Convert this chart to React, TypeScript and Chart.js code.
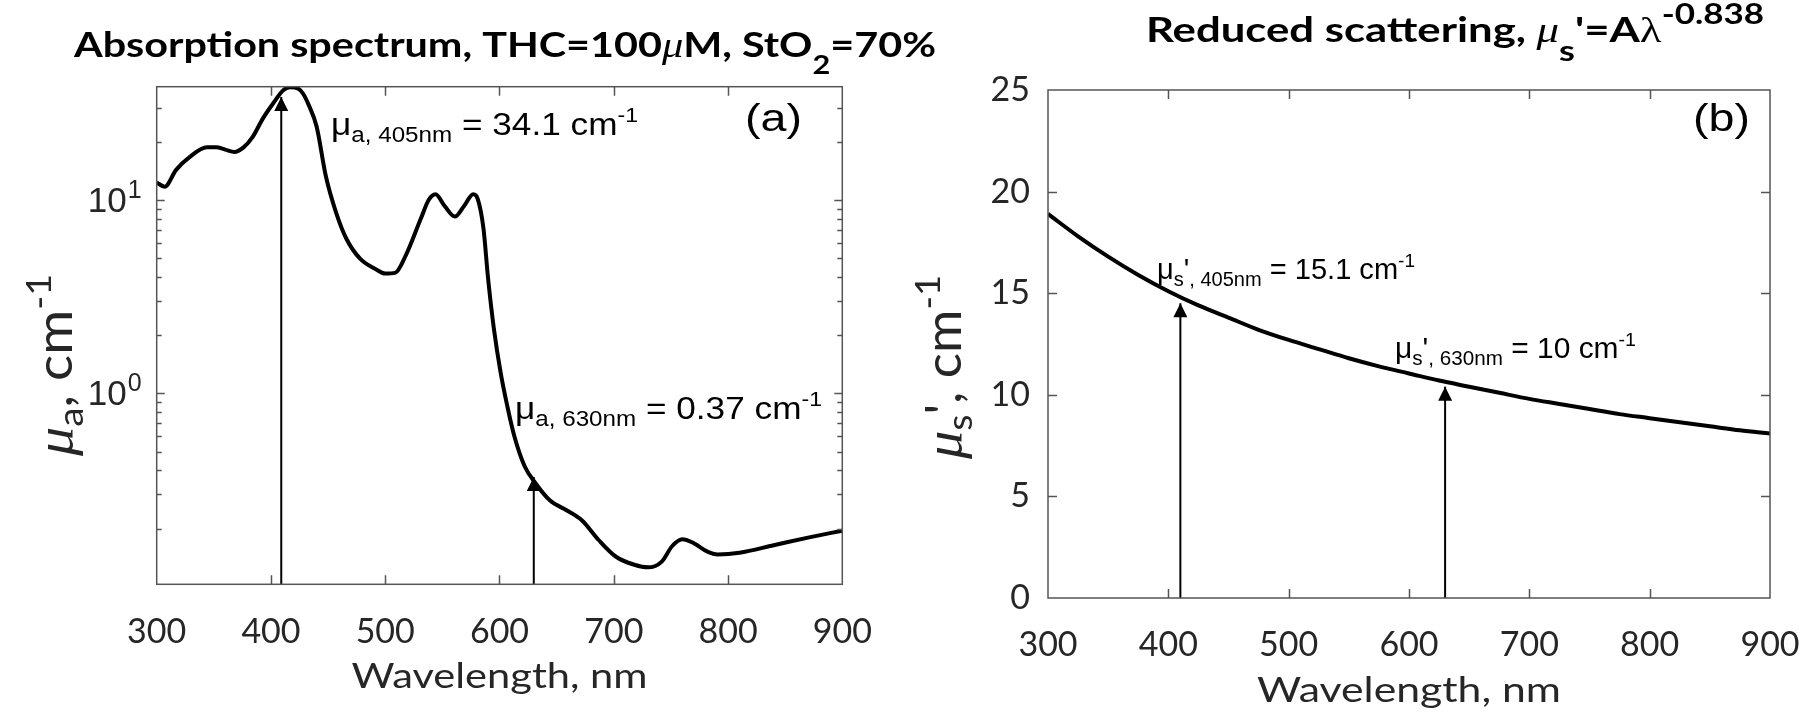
import React, { useEffect, useRef } from 'react';
import { Chart, registerables } from 'chart.js';
Chart.register(...registerables);

// ---------- data ----------
const lambdaAbs = [300, 307, 317, 329, 344, 352, 360, 368, 376, 384, 393, 402, 411, 417, 424, 428, 433, 440, 448, 457, 466, 478, 491, 500, 509, 518, 531, 538, 544, 552, 561, 569, 577, 581, 586, 590, 595, 601, 607, 613, 622, 632, 644, 659, 672, 687, 702, 718, 730, 742, 751, 760, 770, 782, 791, 810, 840, 871, 900];
const muAbs = [12.3, 11.7, 14.3, 16.7, 18.7, 18.7, 18.2, 17.7, 18.7, 21.2, 26.4, 31.6, 37.0, 38.3, 37.6, 35.5, 31.0, 23.9, 13.3, 8.6, 6.3, 4.97, 4.41, 4.16, 4.21, 5.17, 7.96, 10.0, 10.7, 9.3, 8.2, 9.3, 10.7, 10.1, 7.1, 3.93, 2.18, 1.28, 0.85, 0.6, 0.42, 0.34, 0.28, 0.248, 0.221, 0.174, 0.143, 0.13, 0.126, 0.135, 0.162, 0.176, 0.168, 0.152, 0.147, 0.15, 0.164, 0.18, 0.195];

const lambdaScat = [300, 325, 350, 375, 400, 425, 450, 475, 500, 525, 550, 575, 600, 625, 650, 675, 700, 725, 750, 775, 800, 825, 850, 875, 900];
const muScat = [18.9, 17.8, 16.8, 15.9, 15.1, 14.4, 13.8, 13.2, 12.7, 12.25, 11.8, 11.4, 11.05, 10.7, 10.4, 10.1, 9.8, 9.55, 9.3, 9.05, 8.85, 8.65, 8.45, 8.25, 8.1];

const xTickValues = [300, 400, 500, 600, 700, 800, 900];
const logTickValues = [0.2, 0.3, 0.4, 0.5, 0.6, 0.7, 0.8, 0.9, 1, 2, 3, 4, 5, 6, 7, 8, 9, 10, 20, 30];
const logLabelValues = [1, 10];
const scatTickValues = [0, 5, 10, 15, 20, 25];

const absYMin = 0.103;
const absYMax = 38.5;
const scatYMin = 0;
const scatYMax = 25;

const arrowAbsX = [409, 630];
const arrowAbsTip = [34.1, 0.37];
const arrowScatX = [410, 630];
const arrowScatTip = [14.5, 10.4];

// ---------- styling ----------
const FONT_LATO = "Lato, 'DejaVu Sans', sans-serif";
const FONT_ARIAL = "'Liberation Sans', Arial, sans-serif";
const FONT_SERIF = "'Liberation Serif', 'DejaVu Serif', serif";
const AXIS_COLOR = '#555555';
const TEXT_COLOR = '#262626';

type Seg = { t: string; px: number; fam: string; bold?: boolean; it?: boolean; dy?: number };
type Rich = { segs: Seg[]; x: number; y: number; align: 'left' | 'center'; width?: number; sx?: number; rot?: boolean; hs?: number; color?: string };

const fontOf = (s: Seg) => `${s.it ? 'italic ' : ''}${s.bold ? 'bold ' : ''}${s.px}px ${s.fam}`;

function drawRich(ctx: CanvasRenderingContext2D, r: Rich, offX: number) {
  ctx.save();
  const ws = r.segs.map((s) => {
    ctx.font = fontOf(s);
    return ctx.measureText(s.t).width;
  });
  const total = ws.reduce((a, b) => a + b, 0);
  const sx = r.width ? r.width / total : r.sx ?? 1;
  ctx.translate(r.x - offX, r.y);
  if (r.rot) ctx.rotate(-Math.PI / 2);
  ctx.scale(sx, r.hs ?? 1);
  let cx = r.align === 'center' ? -total / 2 : 0;
  ctx.fillStyle = r.color ?? '#000';
  ctx.textAlign = 'left';
  ctx.textBaseline = 'alphabetic';
  r.segs.forEach((s, i) => {
    ctx.font = fontOf(s);
    ctx.fillText(s.t, cx, s.dy ?? 0);
    cx += ws[i];
  });
  ctx.restore();
}

const B = (t: string, px = 35, dy = 0): Seg => ({ t, px, fam: FONT_LATO, bold: true, dy });
const L = (t: string, px = 40, dy = 0): Seg => ({ t, px, fam: FONT_LATO, dy });
const A = (t: string, px = 32, dy = 0): Seg => ({ t, px, fam: FONT_ARIAL, dy });
const G = (t: string, px = 35, dy = 0, it = true): Seg => ({ t, px, fam: FONT_SERIF, it, dy });

const leftTexts: Rich[] = [
  { segs: [B('Absorption spectrum, THC=100'), G('μ', 36), B('M, StO'), B('2', 26, 17), B('=70%')], x: 505, y: 57, align: 'center', width: 862 },
  { segs: [L('Wavelength, nm', 35)], x: 499.5, y: 688, align: 'center', width: 296, color: TEXT_COLOR },
  { segs: [G('μ', 48), L('a', 32, 10), L(', cm', 45), L('-1', 31, -19)], x: 72, y: 365, align: 'center', width: 182, rot: true, hs: 1.1, color: TEXT_COLOR },
  { segs: [A('μ'), A('a, 405nm', 22, 7), A(' = 34.1 cm'), A('-1', 21, -13)], x: 331, y: 135, align: 'left', width: 307 },
  { segs: [A('μ'), A('a, 630nm', 22, 7), A(' = 0.37 cm'), A('-1', 21, -13)], x: 515, y: 419, align: 'left', width: 307 },
  { segs: [A('(a)', 38)], x: 745, y: 131, align: 'left', width: 57 },
];

const rightTexts: Rich[] = [
  { segs: [B('Reduced scattering, '), G('μ', 36), B('s', 29, 19), B("'=A"), G('λ', 36, 0, false), B('-0.838', 28, -18)], x: 1146, y: 42, align: 'left', width: 618 },
  { segs: [L('Wavelength, nm', 35)], x: 1409, y: 702, align: 'center', width: 304, color: TEXT_COLOR },
  { segs: [G('μ', 48), L('s', 32, 10), L("'", 45), L(', cm', 45), L('-1', 31, -19)], x: 961, y: 367, align: 'center', width: 184, rot: true, hs: 1.1, color: TEXT_COLOR },
  { segs: [A('μ', 29), A('s', 20, 7), A("'", 29), A(', 405nm', 20, 7), A(' = 15.1 cm', 29), A('-1', 19, -12)], x: 1157, y: 279, align: 'left', width: 258 },
  { segs: [A('μ', 29), A('s', 20, 7), A("'", 29), A(', 630nm', 20, 7), A(' = 10 cm', 29), A('-1', 19, -12)], x: 1395, y: 358, align: 'left', width: 241 },
  { segs: [A('(b)', 38)], x: 1693, y: 131, align: 'left', width: 57 },
];

// ---------- plugins ----------
function framePlugin(logY: boolean) {
  return {
    id: 'frameTicks',
    afterDatasetsDraw(chart: any) {
      const { ctx, chartArea: a, scales } = chart;
      ctx.save();
      ctx.strokeStyle = AXIS_COLOR;
      ctx.lineWidth = 1.5;
      ctx.beginPath();
      for (const t of scales.x.ticks) {
        const v = t.value;
        if (v <= scales.x.min || v >= scales.x.max) continue;
        const px = Math.round(scales.x.getPixelForValue(v)) + 0.5;
        ctx.moveTo(px, a.bottom);
        ctx.lineTo(px, a.bottom - 9);
        ctx.moveTo(px, a.top);
        ctx.lineTo(px, a.top + 9);
      }
      for (const t of scales.y.ticks) {
        const v = t.value;
        if (v <= scales.y.min || v >= scales.y.max) continue;
        const py = Math.round(scales.y.getPixelForValue(v)) + 0.5;
        const major = logY ? Math.abs(Math.log10(v) - Math.round(Math.log10(v))) < 1e-9 : true;
        const len = logY ? (major ? 8 : 5) : 9;
        ctx.moveTo(a.left, py);
        ctx.lineTo(a.left + len, py);
        ctx.moveTo(a.right, py);
        ctx.lineTo(a.right - len, py);
      }
      ctx.stroke();
      ctx.strokeRect(a.left, a.top, a.right - a.left, a.bottom - a.top);
      ctx.restore();
    },
  };
}

const arrowHeadPlugin = {
  id: 'arrowHeads',
  afterDatasetsDraw(chart: any) {
    const { ctx } = chart;
    ctx.save();
    ctx.fillStyle = '#000';
    chart.data.datasets.forEach((ds: any, i: number) => {
      if (!ds.arrow) return;
      const pts = chart.getDatasetMeta(i).data;
      const tip = pts[pts.length - 1];
      ctx.beginPath();
      ctx.moveTo(tip.x, tip.y);
      ctx.lineTo(tip.x - 7, tip.y + 14);
      ctx.lineTo(tip.x + 7, tip.y + 14);
      ctx.closePath();
      ctx.fill();
    });
    ctx.restore();
  },
};

function textPlugin(texts: Rich[], offX: number, logLabels: boolean) {
  return {
    id: 'richTexts',
    afterDraw(chart: any) {
      const { ctx } = chart;
      texts.forEach((r) => drawRich(ctx, r, offX));
      if (logLabels) {
        const y = chart.scales.y;
        const xe = chart.chartArea.left - 15;
        ctx.save();
        ctx.fillStyle = TEXT_COLOR;
        ctx.textAlign = 'left';
        ctx.textBaseline = 'alphabetic';
        for (const v of logLabelValues) {
          const py = y.getPixelForValue(v);
          const exp = String(Math.round(Math.log10(v)));
          ctx.font = `35px ${FONT_ARIAL}`;
          const wb = ctx.measureText('10').width;
          ctx.font = `25px ${FONT_ARIAL}`;
          const we = ctx.measureText(exp).width;
          ctx.fillText(exp, xe - we, py - 2);
          ctx.font = `35px ${FONT_ARIAL}`;
          ctx.fillText('10', xe - we - 1 - wb, py + 12);
        }
        ctx.restore();
      }
    },
  };
}

const xScale = (height: number) => ({
  type: 'linear',
  min: 300,
  max: 900,
  afterBuildTicks: (s: any) => {
    s.ticks = xTickValues.map((v) => ({ value: v }));
  },
  afterFit: (s: any) => {
    s.height = height;
    s.paddingLeft = 0;
    s.paddingRight = 0;
  },
  grid: { display: false, drawTicks: false },
  border: { display: false },
  ticks: {
    font: { family: FONT_LATO, size: 34 },
    color: TEXT_COLOR,
    padding: 27,
    maxRotation: 0,
    autoSkip: false,
    callback: (v: number) => String(v),
  },
});

function leftConfig(): any {
  return {
    type: 'line',
    data: {
      datasets: [
        {
          data: lambdaAbs.map((x, i) => ({ x, y: muAbs[i] })),
          borderColor: '#000',
          borderWidth: 4,
          pointRadius: 0,
          cubicInterpolationMode: 'monotone',
          fill: false,
        },
        ...arrowAbsX.map((x, i) => ({
          arrow: true,
          data: [
            { x, y: absYMin },
            { x, y: arrowAbsTip[i] },
          ],
          borderColor: '#000',
          borderWidth: 2,
          pointRadius: 0,
          fill: false,
        })),
      ],
    },
    options: {
      animation: false,
      responsive: false,
      devicePixelRatio: 1,
      layout: { padding: { left: 0, right: 960 - 842.3, top: 86.7, bottom: 0 } },
      plugins: { legend: { display: false }, tooltip: { enabled: false } },
      scales: {
        x: xScale(716 - 584.3),
        y: {
          type: 'logarithmic',
          min: absYMin,
          max: absYMax,
          afterBuildTicks: (s: any) => {
            s.ticks = logTickValues.map((v) => ({ value: v }));
          },
          afterFit: (s: any) => {
            s.width = 156.7;
            s.paddingTop = 0;
            s.paddingBottom = 0;
          },
          grid: { display: false, drawTicks: false },
          border: { display: false },
          ticks: { display: false },
        },
      },
    },
    plugins: [framePlugin(true), arrowHeadPlugin, textPlugin(leftTexts, 0, true)],
  };
}

function rightConfig(): any {
  return {
    type: 'line',
    data: {
      datasets: [
        {
          data: lambdaScat.map((x, i) => ({ x, y: muScat[i] })),
          borderColor: '#000',
          borderWidth: 4,
          pointRadius: 0,
          cubicInterpolationMode: 'monotone',
          fill: false,
        },
        ...arrowScatX.map((x, i) => ({
          arrow: true,
          data: [
            { x, y: scatYMin },
            { x, y: arrowScatTip[i] },
          ],
          borderColor: '#000',
          borderWidth: 2,
          pointRadius: 0,
          fill: false,
        })),
      ],
    },
    options: {
      animation: false,
      responsive: false,
      devicePixelRatio: 1,
      layout: { padding: { left: 0, right: 900 - 870, top: 90, bottom: 0 } },
      plugins: { legend: { display: false }, tooltip: { enabled: false } },
      scales: {
        x: xScale(716 - 598),
        y: {
          type: 'linear',
          min: scatYMin,
          max: scatYMax,
          afterBuildTicks: (s: any) => {
            s.ticks = scatTickValues.map((v) => ({ value: v }));
          },
          afterFit: (s: any) => {
            s.width = 148;
            s.paddingTop = 0;
            s.paddingBottom = 0;
          },
          grid: { display: false, drawTicks: false },
          border: { display: false },
          ticks: {
            font: { family: FONT_LATO, size: 34 },
            color: TEXT_COLOR,
            padding: 18,
            callback: (v: number) => String(v),
          },
        },
      },
    },
    plugins: [framePlugin(false), arrowHeadPlugin, textPlugin(rightTexts, 900, false)],
  };
}

export default function App() {
  const leftRef = useRef<HTMLCanvasElement>(null);
  const rightRef = useRef<HTMLCanvasElement>(null);
  useEffect(() => {
    const c1 = new Chart(leftRef.current as HTMLCanvasElement, leftConfig());
    const c2 = new Chart(rightRef.current as HTMLCanvasElement, rightConfig());
    return () => {
      c1.destroy();
      c2.destroy();
    };
  }, []);
  return (
    <div style={{ position: 'absolute', left: 0, top: 0, width: 1800, height: 716, background: '#fff', overflow: 'hidden' }}>
      <canvas ref={leftRef} width={960} height={716} style={{ position: 'absolute', left: 0, top: 0, width: 960, height: 716 }} />
      <canvas ref={rightRef} width={900} height={716} style={{ position: 'absolute', left: 900, top: 0, width: 900, height: 716 }} />
    </div>
  );
}
